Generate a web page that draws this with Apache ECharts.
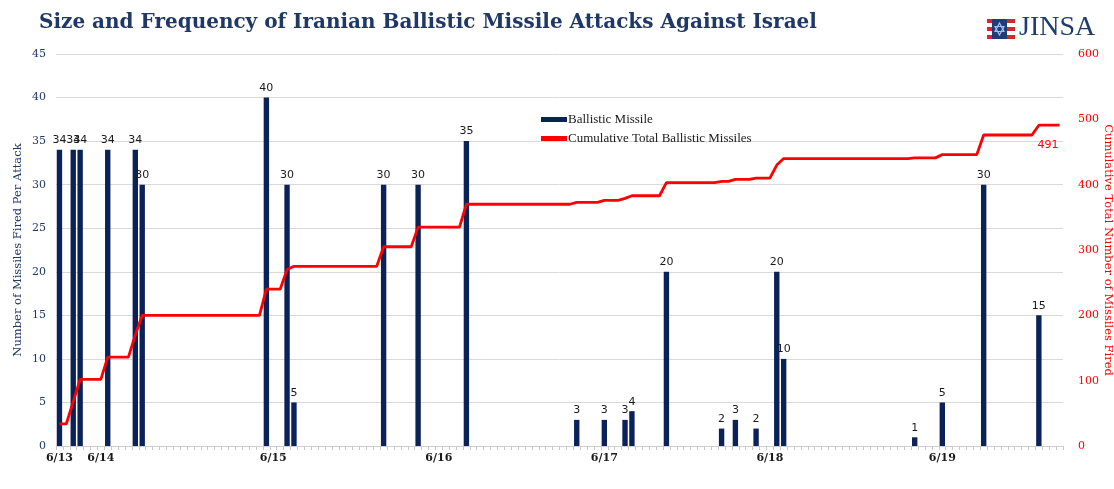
<!DOCTYPE html>
<html><head><meta charset="utf-8">
<script src="https://cdn.jsdelivr.net/npm/echarts@6/dist/echarts.min.js"></script>
<style>html,body{margin:0;padding:0;background:#fff}#c{width:1114px;height:489px}</style>
</head><body><div id="c"></div>
<script>
// ---- data ----
const slotCount = 146; // time slots on the category axis
const attackSlot = [0,2,3,7,11,12,30,33,34,47,52,59,75,79,82,83,88,96,98,101,104,105,124,128,134,142];
const attackMissiles = [34,34,34,34,34,30,40,30,5,30,30,35,3,3,3,4,20,2,3,2,20,10,1,5,30,15];
const dayLabelSlot = [0,6,31,55,79,103,128];
const dayLabelText = ['6/13','6/14','6/15','6/16','6/17','6/18','6/19'];
const leftTicks = [0,5,10,15,20,25,30,35,40,45];
const rightTicks = [0,100,200,300,400,500,600];

// ---- build series ----
const categories = [];
for (let i = 0; i < slotCount; i++) categories.push(String(i));
const barData = categories.map(() => null);
attackSlot.forEach((s, i) => { barData[s] = attackMissiles[i]; });
const cumData = [];
let run = 0;
barData.forEach(v => { run += (v || 0); cumData.push(run); });

const NAVY = '#0b2259';
const RED = '#ff0000';
const TITLE = '#1f3864';

const chart = echarts.init(document.getElementById('c'), null, {renderer: 'canvas'});
chart.setOption({
  backgroundColor: '#fff',
  animation: false,
  title: {
    text: 'Size and Frequency of Iranian Ballistic Missile Attacks Against Israel',
    left: 34, top: 8,
    textStyle: {fontFamily: 'DejaVu Serif', fontWeight: 'bold', fontSize: 20, color: TITLE}
  },
  legend: {
    orient: 'vertical', left: 536, top: 108, itemGap: 6,
    itemWidth: 26, itemHeight: 5,
    textStyle: {fontFamily: 'Liberation Serif', fontSize: 13, color: '#1a1a1a', padding: [0,0,0,-4]},
    data: [
      {name: 'Ballistic Missile', icon: 'rect', itemStyle: {color: NAVY}},
      {name: 'Cumulative Total Ballistic Missiles', icon: 'rect', itemStyle: {color: RED}}
    ]
  },
  grid: {left: 56, right: 51, top: 54, bottom: 43, containLabel: false, outerBoundsMode: 'none'},
  xAxis: {
    type: 'category', data: categories, boundaryGap: true,
    axisLine: {lineStyle: {color: '#d0d0d0', width: 1}},
    axisTick: {show: true, interval: 0, length: 4, lineStyle: {color: '#c8c8c8'}},
    axisLabel: {
      interval: 0, margin: 7,
      fontFamily: 'DejaVu Serif', fontSize: 11, fontWeight: 'bold', color: '#1a1a1a',
      formatter: (v, idx) => { const j = dayLabelSlot.indexOf(idx); return j >= 0 ? dayLabelText[j] : ''; }
    },
    splitLine: {show: false}
  },
  yAxis: [
    {
      type: 'value', min: leftTicks[0], max: leftTicks[leftTicks.length-1], interval: leftTicks[1]-leftTicks[0],
      name: 'Number of Missiles Fired Per Attack', nameLocation: 'middle', nameGap: 32, nameRotate: 90,
      nameMoveOverlap: false,
      nameTextStyle: {fontFamily: 'DejaVu Serif', fontSize: 11.5, color: TITLE},
      axisLine: {show: false}, axisTick: {show: false},
      axisLabel: {fontFamily: 'DejaVu Serif', fontSize: 11, color: TITLE, margin: 10},
      splitLine: {lineStyle: {color: '#d9d9d9', width: 1}}
    },
    {
      type: 'value', min: rightTicks[0], max: rightTicks[rightTicks.length-1], interval: rightTicks[1]-rightTicks[0],
      name: 'Cumulative Total Number of Missiles Fired', nameLocation: 'middle', nameGap: 39, nameRotate: -90,
      nameMoveOverlap: false,
      nameTextStyle: {fontFamily: 'DejaVu Serif', fontSize: 11.5, color: RED},
      axisLine: {show: false}, axisTick: {show: false},
      axisLabel: {fontFamily: 'DejaVu Serif', fontSize: 11, color: RED, margin: 15},
      splitLine: {show: false}
    }
  ],
  series: [
    {
      name: 'Ballistic Missile', type: 'bar', data: barData, yAxisIndex: 0,
      barCategoryGap: '22%',
      itemStyle: {color: NAVY},
      label: {show: true, position: 'top', distance: 4, fontFamily: 'DejaVu Sans', fontSize: 11, color: '#1a1a1a'}
    },
    {
      name: 'Cumulative Total Ballistic Missiles', type: 'line', data: cumData, yAxisIndex: 1,
      showSymbol: false, symbol: 'none', smooth: false,
      lineStyle: {color: RED, width: 2.8}, itemStyle: {color: RED},
      endLabel: {show: true, distance: 0, offset: [-22, 20], fontFamily: 'DejaVu Sans', fontSize: 11, color: RED},
      z: 5
    }
  ],
  graphic: [
    {
      type: 'group', left: 987, top: 14,
      children: [
        {type: 'rect', shape: {x: 0, y: 0, width: 28, height: 20}, style: {fill: '#fff'}},
        {type: 'rect', shape: {x: 0, y: 0, width: 28, height: 4}, style: {fill: '#d7262e'}},
        {type: 'rect', shape: {x: 0, y: 8, width: 28, height: 4}, style: {fill: '#d7262e'}},
        {type: 'rect', shape: {x: 0, y: 16, width: 28, height: 4}, style: {fill: '#d7262e'}},
        {type: 'rect', shape: {x: 5, y: 0, width: 15, height: 20}, style: {fill: '#1f3d7a'}},
        {type: 'polygon', shape: {points: [[12.5,4],[17,12.5],[8,12.5]]}, style: {fill: 'none', stroke: '#9fc3e7', lineWidth: 1.2}},
        {type: 'polygon', shape: {points: [[12.5,16],[17,7.5],[8,7.5]]}, style: {fill: 'none', stroke: '#9fc3e7', lineWidth: 1.2}},
        {type: 'text', x: 32, y: -5, style: {text: 'JINSA', fontFamily: 'Liberation Serif', fontSize: 28, fill: '#1f3d6e'}}
      ]
    }
  ]
});
</script></body></html>
